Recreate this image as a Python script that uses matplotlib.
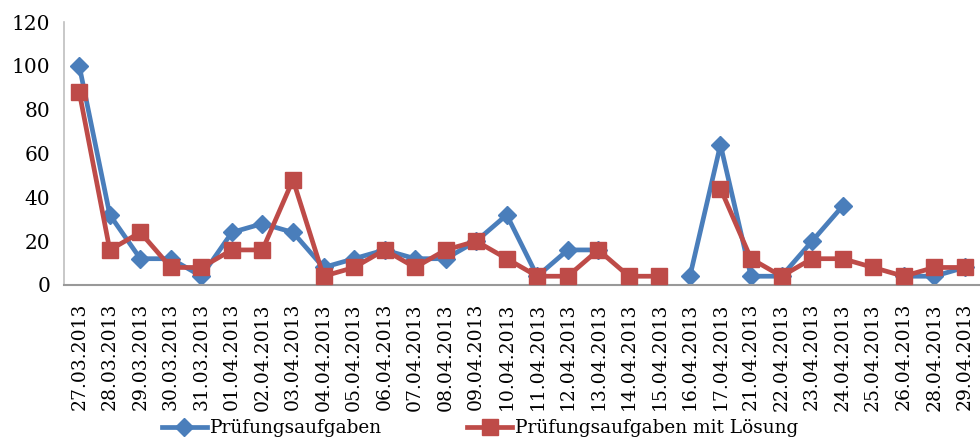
import numpy as np
import matplotlib
matplotlib.use("Agg")
import matplotlib.pyplot as plt

dates = ["27.03.2013", "28.03.2013", "29.03.2013", "30.03.2013", "31.03.2013",
         "01.04.2013", "02.04.2013", "03.04.2013", "04.04.2013", "05.04.2013",
         "06.04.2013", "07.04.2013", "08.04.2013", "09.04.2013", "10.04.2013",
         "11.04.2013", "12.04.2013", "13.04.2013", "14.04.2013", "15.04.2013",
         "16.04.2013", "17.04.2013", "21.04.2013", "22.04.2013", "23.04.2013",
         "24.04.2013", "25.04.2013", "26.04.2013", "28.04.2013", "29.04.2013"]

nan = np.nan
aufgaben = [100, 32, 12, 12, 4, 24, 28, 24, 8, 12,
            16, 12, 12, 20, 32, 4, 16, 16, nan, nan,
            4, 64, 4, 4, 20, 36, nan, 4, 4, 8]
mit_loesung = [88, 16, 24, 8, 8, 16, 16, 48, 4, 8,
               16, 8, 16, 20, 12, 4, 4, 16, 4, 4,
               nan, 44, 12, 4, 12, 12, 8, 4, 8, 8]

yticks = [0, 20, 40, 60, 80, 100, 120]

blue = "#4A7EBB"
red = "#BE4B48"
font = "DejaVu Serif"

fig = plt.figure(figsize=(9.8, 4.37), dpi=100)
ax = fig.add_axes([64 / 980, 1 - 285 / 437, (980 - 64) / 980, (285 - 22) / 437])

x = np.arange(len(dates))
ax.plot(x, aufgaben, color=blue, lw=3.4, marker="D", ms=9.5,
        mfc=blue, mec=blue, label="Prüfungsaufgaben", zorder=2)
ax.plot(x, mit_loesung, color=red, lw=3.4, marker="s", ms=11,
        mfc=red, mec=red, label="Prüfungsaufgaben mit Lösung", zorder=3)

ax.set_xlim(-0.5, len(dates) - 0.5)
ax.set_ylim(0, 120)
ax.set_yticks(yticks)
ax.set_yticklabels([str(v) for v in yticks], fontfamily=font, fontsize=14.5)
ax.set_xticks(x)
ax.set_xticklabels(dates, rotation=90, fontfamily=font, fontsize=13.5)
ax.tick_params(axis="both", length=0)
ax.tick_params(axis="y", pad=10)
ax.tick_params(axis="x", pad=13)

for side in ("top", "right"):
    ax.spines[side].set_visible(False)
ax.spines["left"].set_color("#BFBFBF")
ax.spines["bottom"].set_color("#999999")
ax.spines["left"].set_linewidth(1.2)
ax.spines["bottom"].set_linewidth(1.5)

fig.legend(loc="center", bbox_to_anchor=(480 / 980, 1 - 428 / 437), ncol=2,
           frameon=False, prop={"family": font, "size": 13.3},
           handlelength=2.45, handletextpad=0.15, columnspacing=4.6,
           borderaxespad=0)

fig.savefig("out.png", dpi=100)
